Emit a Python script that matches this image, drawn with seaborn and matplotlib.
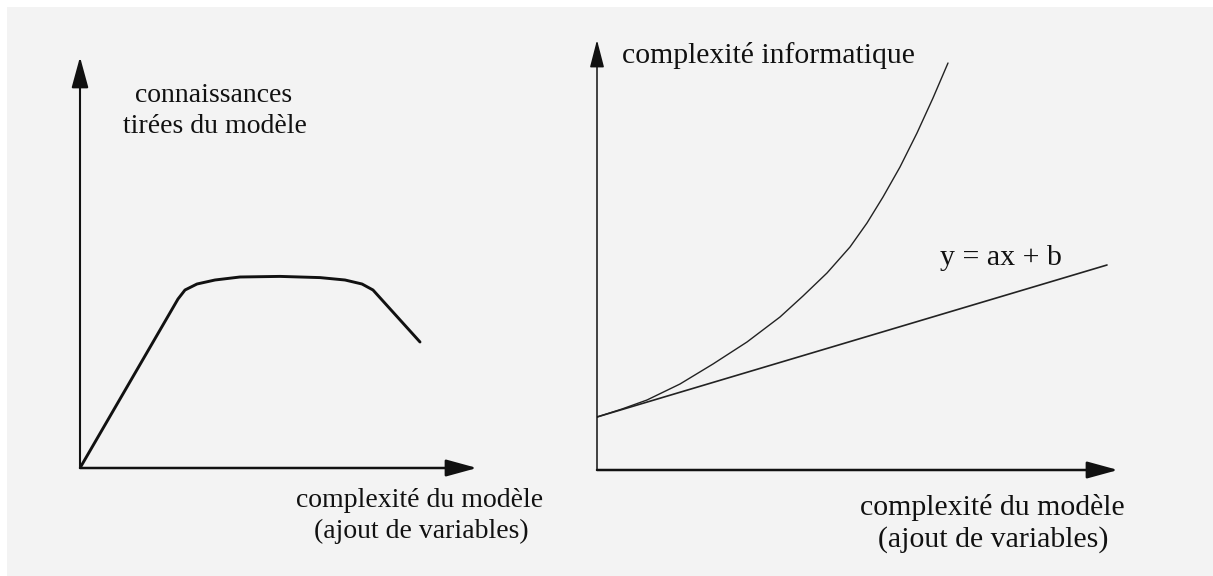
import matplotlib
matplotlib.use("Agg")
import matplotlib.pyplot as plt
from matplotlib.patches import Rectangle
import seaborn as sns
import pandas as pd

sns.set_theme(style="white")
plt.rcParams["font.family"] = ["Liberation Serif", "DejaVu Serif"]

# ---- data (arbitrary units) ----
# left panel: knowledge drawn from the model vs model complexity
knowledge_x = [0.0, 2.45, 2.625, 2.925, 3.375, 4.0, 5.0, 6.0, 6.625, 7.05, 7.325, 8.5]
knowledge_y = [0.0, 4.225, 4.45, 4.6, 4.7, 4.775, 4.79, 4.76, 4.7, 4.6, 4.45, 3.15]

# right panel: computational complexity vs model complexity
compute_x = [0.0, 0.625, 1.25, 2.075, 2.9, 3.75, 4.575, 5.15, 5.75, 6.325,
             6.75, 7.15, 7.575, 8.0, 8.4, 8.775]
compute_y = [1.325, 1.525, 1.75, 2.15, 2.65, 3.2, 3.825, 4.35, 4.925, 5.575,
             6.175, 6.825, 7.575, 8.425, 9.3, 10.175]
linear_x = [0.0, 12.75]
linear_y = [1.325, 5.125]

# axis extents (arrow tips) in data units
left_x_tip, left_y_tip = 9.925, 10.275
right_x_tip, right_y_tip = 13.025, 10.75

# labels
left_ylabel = ["connaissances", "tirées du modèle"]
xlabel_lines = ["complexité du modèle", "(ajout de variables)"]
right_ylabel = "complexité informatique"
linear_label = "y = ax + b"

W, H = 1213, 576
fig = plt.figure(figsize=(W / 100, H / 100), dpi=100)
fig.patch.set_facecolor("#f3f3f3")
# white scan margins on the top and left edges
fig.patches.append(Rectangle((0, 1 - 7 / H), 1, 7 / H, transform=fig.transFigure,
                             facecolor="white", edgecolor="none", zorder=-10))
fig.patches.append(Rectangle((0, 0), 7 / W, 1, transform=fig.transFigure,
                             facecolor="white", edgecolor="none", zorder=-10))


def fx(px):
    return px / W


def fy(py):
    return 1 - py / H


def make_axes(left, bottom, right, top, xmax, ymax):
    ax = fig.add_axes([fx(left), fy(bottom), (right - left) / W, (bottom - top) / H])
    ax.set_xlim(0, xmax)
    ax.set_ylim(0, ymax)
    ax.patch.set_alpha(0)
    for s in ax.spines.values():
        s.set_visible(False)
    ax.set_xticks([])
    ax.set_yticks([])
    return ax


def arrow(ax, tip, lw, hl, hw, ms=20):
    ax.annotate("", xy=tip, xytext=(0, 0), xycoords="data", textcoords="data",
                annotation_clip=False,
                arrowprops=dict(arrowstyle=f"-|>,head_length={hl},head_width={hw}",
                                lw=lw, color="#111111", shrinkA=0, shrinkB=0,
                                mutation_scale=ms))


# ---- left panel ----
ax1 = make_axes(80, 468, 480, 55, 10.0, 10.325)
df1 = pd.DataFrame({"x": knowledge_x, "y": knowledge_y})
sns.lineplot(data=df1, x="x", y="y", sort=False, ax=ax1, color="#111111", lw=2.1)
arrow(ax1, (0, left_y_tip), 1.5, 0.95, 0.26)
arrow(ax1, (left_x_tip, 0), 1.8, 0.95, 0.26)
ax1.set_xlabel("")
ax1.set_ylabel("")

# ---- right panel ----
ax2 = make_axes(597, 470, 1127, 38, 13.25, 10.8)
df2 = pd.DataFrame({"x": compute_x, "y": compute_y})
df3 = pd.DataFrame({"x": linear_x, "y": linear_y})
sns.lineplot(data=df2, x="x", y="y", sort=False, ax=ax2, color="#222222", lw=1.0)
sns.lineplot(data=df3, x="x", y="y", sort=False, ax=ax2, color="#222222", lw=1.2)
arrow(ax2, (0, right_y_tip), 1.1, 0.85, 0.22)
arrow(ax2, (right_x_tip, 0), 1.8, 0.95, 0.26)
ax2.set_xlabel("")
ax2.set_ylabel("")

# ---- texts ----
tc = "#111111"
fig.text(fx(214), fy(102), left_ylabel[0], ha="center", va="baseline", fontsize=20, color=tc)
fig.text(fx(215), fy(133), left_ylabel[1], ha="center", va="baseline", fontsize=20, color=tc)
fig.text(fx(420), fy(507), xlabel_lines[0], ha="center", va="baseline", fontsize=20, color=tc)
fig.text(fx(421), fy(538), xlabel_lines[1], ha="center", va="baseline", fontsize=20, color=tc)

fig.text(fx(622), fy(63), right_ylabel, ha="left", va="baseline", fontsize=21.4, color=tc)
fig.text(fx(940), fy(265), linear_label, ha="left", va="baseline", fontsize=21.5, color=tc)
fig.text(fx(992), fy(515), xlabel_lines[0], ha="center", va="baseline", fontsize=21.5, color=tc)
fig.text(fx(993), fy(547), xlabel_lines[1], ha="center", va="baseline", fontsize=21.5, color=tc)

fig.savefig("out.png", dpi=100, facecolor=fig.get_facecolor())
